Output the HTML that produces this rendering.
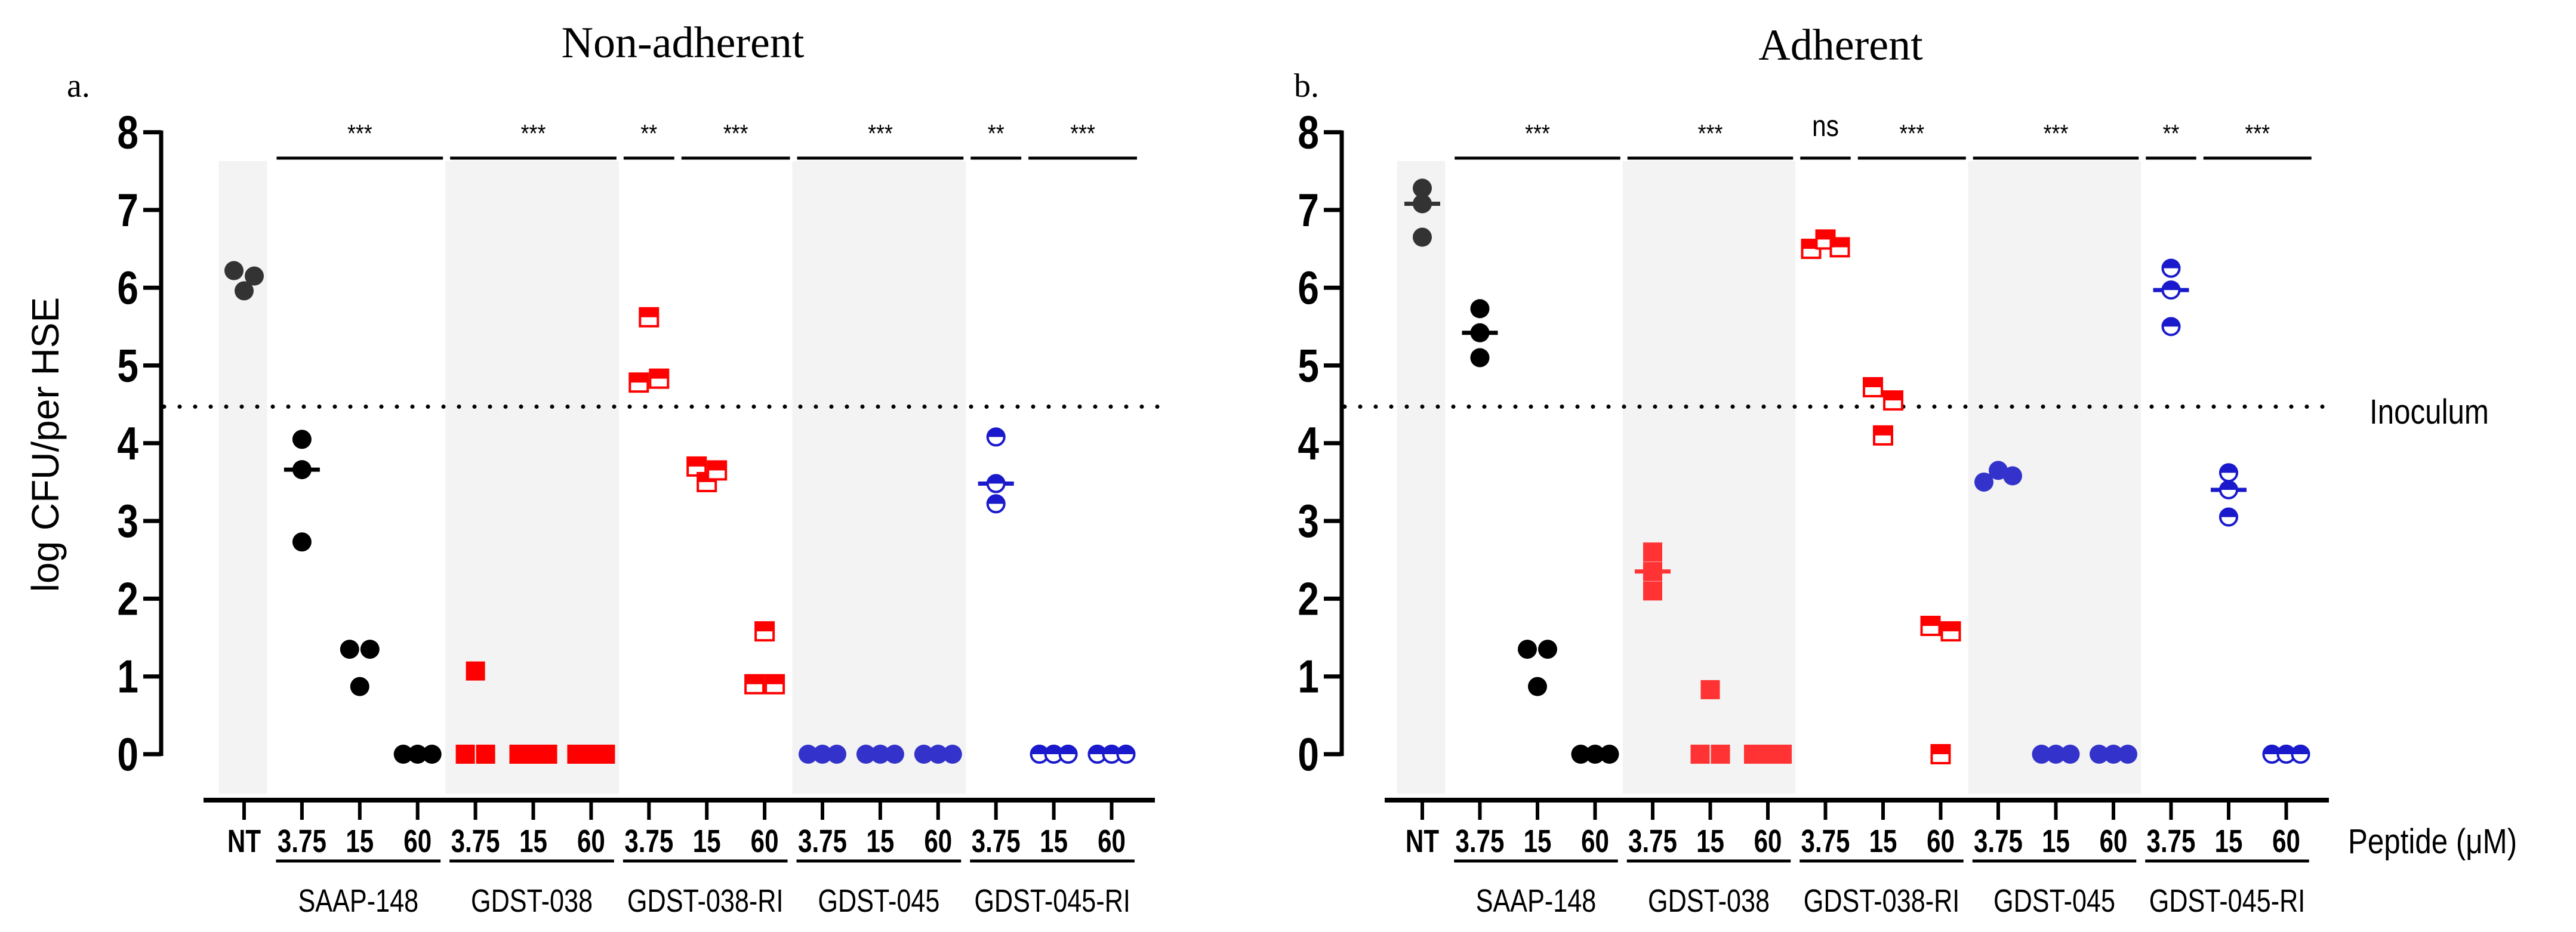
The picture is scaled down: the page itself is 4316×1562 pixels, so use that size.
<!DOCTYPE html>
<html><head><meta charset="utf-8"><style>
html,body{margin:0;padding:0;background:#fff;}
svg{display:block;}
</style></head><body>
<svg id="chart" width="4316" height="1562" xmlns="http://www.w3.org/2000/svg">
<text x="1144" y="96" font-family="Liberation Serif,serif" font-size="74" text-anchor="middle">Non-adherent</text>
<text x="112" y="162" font-family="Liberation Serif,serif" font-size="56">a.</text>
<text x="3084" y="100" font-family="Liberation Serif,serif" font-size="74" text-anchor="middle">Adherent</text>
<text x="2168" y="162" font-family="Liberation Serif,serif" font-size="56">b.</text>
<text transform="translate(98,745) rotate(-90)" font-family="Liberation Sans,sans-serif" font-size="64" text-anchor="middle">log CFU/per HSE</text>
<text transform="translate(3970,710) scale(0.85,1)" font-family="Liberation Sans,sans-serif" font-size="58">Inoculum</text>
<text transform="translate(3934,1430) scale(0.85,1)" font-family="Liberation Sans,sans-serif" font-size="58">Peptide (μM)</text>
<g id="panels"></g>
</svg>
<script>
const categories = ["NT","3.75","15","60","3.75","15","60","3.75","15","60","3.75","15","60","3.75","15","60"];
const groups = ["SAAP-148","GDST-038","GDST-038-RI","GDST-045","GDST-045-RI"];
const yTicks = [0,1,2,3,4,5,6,7,8];
const inoculum = 4.47;
const leftValues = [[6.22,5.96,6.15],[4.05,3.66,2.73],[1.35,0.87,1.35],[0,0,0],[1.07,0,0],[0,0,0],[0,0,0],[4.78,5.62,4.83],[3.7,3.5,3.65],[0.9,1.58,0.9],[0,0,0],[0,0,0],[0,0,0],[4.08,3.48,3.22],[0,0,0],[0,0,0]];
const rightValues = [[7.28,6.65,7.08],[5.73,5.42,5.1],[1.35,0.87,1.35],[0,0,0],[2.6,2.35,2.1],[0.83,0,0],[0,0,0],[6.5,6.62,6.52],[4.72,4.1,4.55],[1.65,0,1.58],[3.5,3.65,3.58],[0,0,0],[0,0,0],[6.25,5.97,5.5],[3.62,3.05,3.4],[0,0,0]];
const leftSig = ["***","***","**","***","***","**","***"];
const rightSig = ["***","***","ns","***","***","**","***"];
const medianShown = [[1,13],[0,1,4,10,13,14]];

const NS="http://www.w3.org/2000/svg";
const root=document.getElementById('panels');
function mk(tag,attrs,parent,text){const e=document.createElementNS(NS,tag);for(const k in attrs)e.setAttribute(k,attrs[k]);if(text!==undefined)e.textContent=text;(parent||root).appendChild(e);return e;}
function jitter(arr){
  // spread points that overlap vertically, centre isolated ones
  const n=arr.length, off=new Array(n).fill(0), used=new Array(n).fill(false);
  for(let i=0;i<n;i++){ if(used[i])continue;
    const cl=[i];
    for(let j=i+1;j<n;j++){ if(!used[j]&&cl.some(k=>Math.abs(arr[k]-arr[j])<0.2)) cl.push(j);}
    cl.forEach(k=>used[k]=true);
    const w=cl.length==1?0:(cl.length==2?17:24);
    cl.forEach((k,q)=>{off[k]=cl.length==1?0:(-w+q*(2*w/(cl.length-1)));});
  }
  return off;
}
function panel(p){
  const g=mk('g',{});
  
  
  const y=v=>1264-130.3*v;
  const x=i=>p.x0+i*p.dx;
  [[0,0],[4,6],[10,12]].forEach((b,k)=>{
    const r=mk('rect',{x:x(b[0])-p.dx/2-(k==0?-6:2),y:270,width:(b[1]-b[0]+1)*p.dx-(k==0?16:0),height:1060,fill:'#f3f3f3'},g);
    
    
  });
  const ya=mk('line',{x1:p.ax,y1:y(8)-3,x2:p.ax,y2:y(0)+3,stroke:'#000','stroke-width':7},g);
  
  
  yTicks.forEach(t=>{
    mk('line',{x1:p.ax-30,y1:y(t),x2:p.ax,y2:y(t),stroke:'#000','stroke-width':7},g);
    const tl=mk('text',{transform:`translate(${p.ax-38},${y(t)+27}) scale(0.82,1)`,'text-anchor':'end','font-size':78,'font-weight':'bold','font-family':'Liberation Sans,sans-serif'},g,String(t));
    
    
  });
  const xa=mk('line',{x1:p.xa0,y1:1341,x2:p.xa1,y2:1341,stroke:'#000','stroke-width':8},g);
  
  
  categories.forEach((c,i)=>{
    mk('line',{x1:x(i),y1:1341,x2:x(i),y2:1374,stroke:'#000','stroke-width':6},g);
    const tl=mk('text',{transform:`translate(${x(i)},${1428}) scale(0.78,1)`,'text-anchor':'middle','font-size':54,'font-weight':'bold','font-family':'Liberation Sans,sans-serif'},g,c);
    
    
  });
  groups.forEach((gn,k)=>{
    const a=x(1+3*k)-p.dx/2+5,b=x(3+3*k)+p.dx/2-10;
    mk('line',{x1:a,y1:1443,x2:b,y2:1443,stroke:'#000','stroke-width':5},g);
    const tl=mk('text',{transform:`translate(${(a+b)/2},1528) scale(0.8,1)`,'text-anchor':'middle','font-size':54,'font-family':'Liberation Sans,sans-serif'},g,gn);
    
    
  });
  const segs=[[1,3],[4,6],[7,7],[8,9],[10,12],[13,13],[14,15]];
  segs.forEach((s,k)=>{
    const a=x(s[0])-p.dx/2+6,b=x(s[1])+p.dx/2-6;
    mk('line',{x1:a,y1:265,x2:b,y2:265,stroke:'#000','stroke-width':5},g);
    const ns=p.sig[k]=='ns';
    const tl=mk('text',{transform:`translate(${(a+b)/2},${ns?228:238}) scale(0.85,1)`,'text-anchor':'middle','font-size':ns?50:42,'font-family':'Liberation Sans,sans-serif'},g,p.sig[k]);
    
    
  });
  const dl=mk('line',{x1:p.ax+5,y1:y(inoculum),x2:p.xa1+8,y2:y(inoculum),stroke:'#000','stroke-width':7,'stroke-dasharray':'0 26','stroke-linecap':'round'},g);
  
  
  p.vals.forEach((arr,i)=>{
    const grp=i==0?-1:Math.floor((i-1)/3);
    const offs=jitter(arr);
    const sorted=arr.slice().sort((a,b)=>a-b);
    if(p.med.includes(i)){
      const col=grp==-1?'#333':grp<=0?'#000':grp<=2?'#f33':'#1a1acc';
      const ml=mk('line',{x1:x(i)-30,y1:y(sorted[1]),x2:x(i)+30,y2:y(sorted[1]),stroke:col,'stroke-width':7},g);
      
      
    }
    arr.forEach((v,j)=>{
      const cx=x(i)+offs[j],cy=y(v);
      let m;
      if(grp==-1){m=mk('circle',{cx,cy,r:16,fill:'#333'},g);}
      else if(grp==0){m=mk('circle',{cx,cy,r:16,fill:'#000'},g);}
      else if(grp==1){m=mk('rect',{x:cx-16,y:cy-16,width:32,height:32,fill:p.red2},g);}
      else if(grp==2){m=mk('g',{},g);
        mk('rect',{x:cx-15,y:cy-15,width:30,height:30,fill:'#fff',stroke:'#f00','stroke-width':4},m);
        mk('rect',{x:cx-15,y:cy-15,width:30,height:15,fill:'#f00'},m);}
      else if(grp==3){m=mk('circle',{cx,cy,r:16,fill:'#3333cc'},g);}
      else {m=mk('g',{},g);
        mk('circle',{cx,cy,r:14,fill:'#fff',stroke:'#1a1acc','stroke-width':4},m);
        mk('path',{d:`M${cx-16} ${cy} A16 16 0 0 1 ${cx+16} ${cy} Z`,fill:'#1a1acc'},m);}
      
      
    });
  });
}
panel({name:'panel-non-adherent',ax:270,x0:409,dx:96.9,xa0:341,xa1:1935,vals:leftValues,sig:leftSig,med:medianShown[0],red2:'#f00'});
panel({name:'panel-adherent',ax:2248,x0:2383,dx:96.5,xa0:2320,xa1:3902,vals:rightValues,sig:rightSig,med:medianShown[1],red2:'#f33'});
</script>
</body></html>
